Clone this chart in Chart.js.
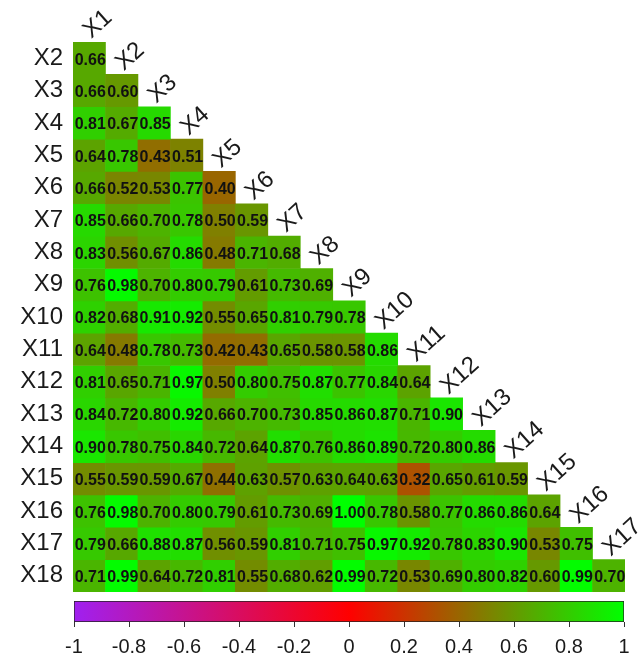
<!DOCTYPE html>
<html>
<head>
<meta charset="utf-8">
<script src="https://cdn.jsdelivr.net/npm/chart.js@4/dist/chart.umd.min.js"></script>
<style>
  body { margin: 0; background: #fff; }
  #wrap { position: relative; width: 641px; height: 663px; }
  #heat { position: absolute; left: 0; top: 0; }
  #bar { position: absolute; left: 0; top: 596px; }
</style>
</head>
<body>
<div id="wrap">
  <canvas id="heat" width="641" height="663"></canvas>
  <canvas id="bar" width="641" height="67"></canvas>
</div>
<script>
const colLabels = ['X1','X2','X3','X4','X5','X6','X7','X8','X9','X10','X11','X12','X13','X14','X15','X16','X17'];
const rowLabels = ['X2','X3','X4','X5','X6','X7','X8','X9','X10','X11','X12','X13','X14','X15','X16','X17','X18'];

// lower triangle, one array per row
const corrX2  = [0.66];
const corrX3  = [0.66, 0.60];
const corrX4  = [0.81, 0.67, 0.85];
const corrX5  = [0.64, 0.78, 0.43, 0.51];
const corrX6  = [0.66, 0.52, 0.53, 0.77, 0.40];
const corrX7  = [0.85, 0.66, 0.70, 0.78, 0.50, 0.59];
const corrX8  = [0.83, 0.56, 0.67, 0.86, 0.48, 0.71, 0.68];
const corrX9  = [0.76, 0.98, 0.70, 0.80, 0.79, 0.61, 0.73, 0.69];
const corrX10 = [0.82, 0.68, 0.91, 0.92, 0.55, 0.65, 0.81, 0.79, 0.78];
const corrX11 = [0.64, 0.48, 0.78, 0.73, 0.42, 0.43, 0.65, 0.58, 0.58, 0.86];
const corrX12 = [0.81, 0.65, 0.71, 0.97, 0.50, 0.80, 0.75, 0.87, 0.77, 0.84, 0.64];
const corrX13 = [0.84, 0.72, 0.80, 0.92, 0.66, 0.70, 0.73, 0.85, 0.86, 0.87, 0.71, 0.90];
const corrX14 = [0.90, 0.78, 0.75, 0.84, 0.72, 0.64, 0.87, 0.76, 0.86, 0.89, 0.72, 0.80, 0.86];
const corrX15 = [0.55, 0.59, 0.59, 0.67, 0.44, 0.63, 0.57, 0.63, 0.64, 0.63, 0.32, 0.65, 0.61, 0.59];
const corrX16 = [0.76, 0.98, 0.70, 0.80, 0.79, 0.61, 0.73, 0.69, 1.00, 0.78, 0.58, 0.77, 0.86, 0.86, 0.64];
const corrX17 = [0.79, 0.66, 0.88, 0.87, 0.56, 0.59, 0.81, 0.71, 0.75, 0.97, 0.92, 0.78, 0.83, 0.90, 0.53, 0.75];
const corrX18 = [0.71, 0.99, 0.64, 0.72, 0.81, 0.55, 0.68, 0.62, 0.99, 0.72, 0.53, 0.69, 0.80, 0.82, 0.60, 0.99, 0.70];
const corrRows = [corrX2, corrX3, corrX4, corrX5, corrX6, corrX7, corrX8, corrX9, corrX10,
                  corrX11, corrX12, corrX13, corrX14, corrX15, corrX16, corrX17, corrX18];

const scaleTicks = [-1, -0.8, -0.6, -0.4, -0.2, 0, 0.2, 0.4, 0.6, 0.8, 1];

const purple = [160, 32, 240], red = [255, 0, 0], green = [0, 255, 0];
function colorFor(v) {
  const a = v < 0 ? purple : red;
  const b = v < 0 ? red : green;
  const t = v < 0 ? v + 1 : v;
  const c = a.map((x, k) => Math.round(x + (b[k] - x) * t));
  return 'rgb(' + c.join(',') + ')';
}

const FONT = '"Liberation Sans", Arial, sans-serif';

const datasets = corrRows.map((vals, i) => ({
  label: rowLabels[i],
  data: colLabels.map((c, j) => j < vals.length ? [i - 0.5, i + 0.5] : null),
  values: vals,
  backgroundColor: vals.map(colorFor).concat(colLabels.slice(vals.length).map(() => 'transparent')),
  borderWidth: 0,
  categoryPercentage: 1,
  barPercentage: 1
}));

const cellText = {
  id: 'cellText',
  afterDatasetsDraw(chart) {
    const ctx = chart.ctx;
    ctx.save();
    ctx.font = 'bold 16px ' + FONT;
    ctx.fillStyle = '#111';
    ctx.textAlign = 'center';
    ctx.textBaseline = 'middle';
    chart.data.datasets.forEach((ds, i) => {
      const meta = chart.getDatasetMeta(i);
      ds.values.forEach((v, j) => {
        const p = meta.data[j].getCenterPoint();
        ctx.fillText(v.toFixed(2), p.x + 1, p.y + 2);
      });
    });
    ctx.restore();
  }
};

const diagLabels = {
  id: 'diagLabels',
  afterDraw(chart) {
    const ctx = chart.ctx;
    const xs = chart.scales.x, ys = chart.scales.y;
    ctx.save();
    ctx.font = '24px ' + FONT;
    ctx.fillStyle = '#1a1a1a';
    ctx.textAlign = 'left';
    ctx.textBaseline = 'alphabetic';
    colLabels.forEach((lab, j) => {
      const x = xs.getPixelForValue(j);
      const top = ys.getPixelForValue(j - 0.5);
      ctx.save();
      ctx.translate(x + 2, top - 3);
      ctx.rotate(-42 * Math.PI / 180);
      ctx.fillText(lab, 0, 0);
      ctx.restore();
    });
    ctx.restore();
  }
};

new Chart(document.getElementById('heat'), {
  type: 'bar',
  data: { labels: colLabels, datasets: datasets },
  options: {
    responsive: false,
    animation: false,
    layout: { padding: { top: 42, bottom: 71, right: 16, left: 0 } },
    plugins: { legend: { display: false }, tooltip: { enabled: false } },
    scales: {
      x: { type: 'category', stacked: true, display: false },
      y: {
        type: 'linear',
        reverse: true,
        min: -0.5,
        max: 16.5,
        stacked: false,
        afterBuildTicks: s => { s.ticks = rowLabels.map((_, i) => ({ value: i })); },
        afterFit: s => { s.width = 73; },
        ticks: {
          callback: v => rowLabels[v],
          font: { size: 24, family: FONT },
          color: '#1a1a1a',
          padding: 10,
          autoSkip: false
        },
        grid: { display: false, drawTicks: false },
        border: { display: false }
      }
    }
  },
  plugins: [cellText, diagLabels]
});

// colour key
new Chart(document.getElementById('bar'), {
  type: 'bar',
  data: {
    labels: ['key'],
    datasets: [{
      data: [[-1, 1]],
      backgroundColor(c) {
        const area = c.chart.chartArea;
        if (!area) return null;
        const xs = c.chart.scales.x;
        const g = c.chart.ctx.createLinearGradient(xs.getPixelForValue(-1), 0, xs.getPixelForValue(1), 0);
        g.addColorStop(0, colorFor(-1));
        g.addColorStop(0.5, colorFor(0));
        g.addColorStop(1, colorFor(1));
        return g;
      },
      borderColor: '#222',
      borderWidth: 1,
      borderSkipped: false,
      categoryPercentage: 1,
      barPercentage: 1
    }]
  },
  options: {
    indexAxis: 'y',
    responsive: false,
    animation: false,
    layout: { padding: { top: 5, left: 74, right: 17, bottom: 0 } },
    plugins: { legend: { display: false }, tooltip: { enabled: false } },
    scales: {
      y: { display: false },
      x: {
        type: 'linear',
        min: -1,
        max: 1,
        afterBuildTicks: s => { s.ticks = scaleTicks.map(v => ({ value: v })); },
        afterFit: s => { s.height = 41; },
        ticks: {
          callback: v => String(Math.round(v * 10) / 10),
          font: { size: 20, family: FONT },
          color: '#1a1a1a',
          padding: 8,
          maxRotation: 0,
          autoSkip: false
        },
        grid: { drawOnChartArea: false, drawTicks: true, tickLength: 5, color: '#333' },
        border: { display: false }
      }
    }
  }
});
</script>
</body>
</html>
